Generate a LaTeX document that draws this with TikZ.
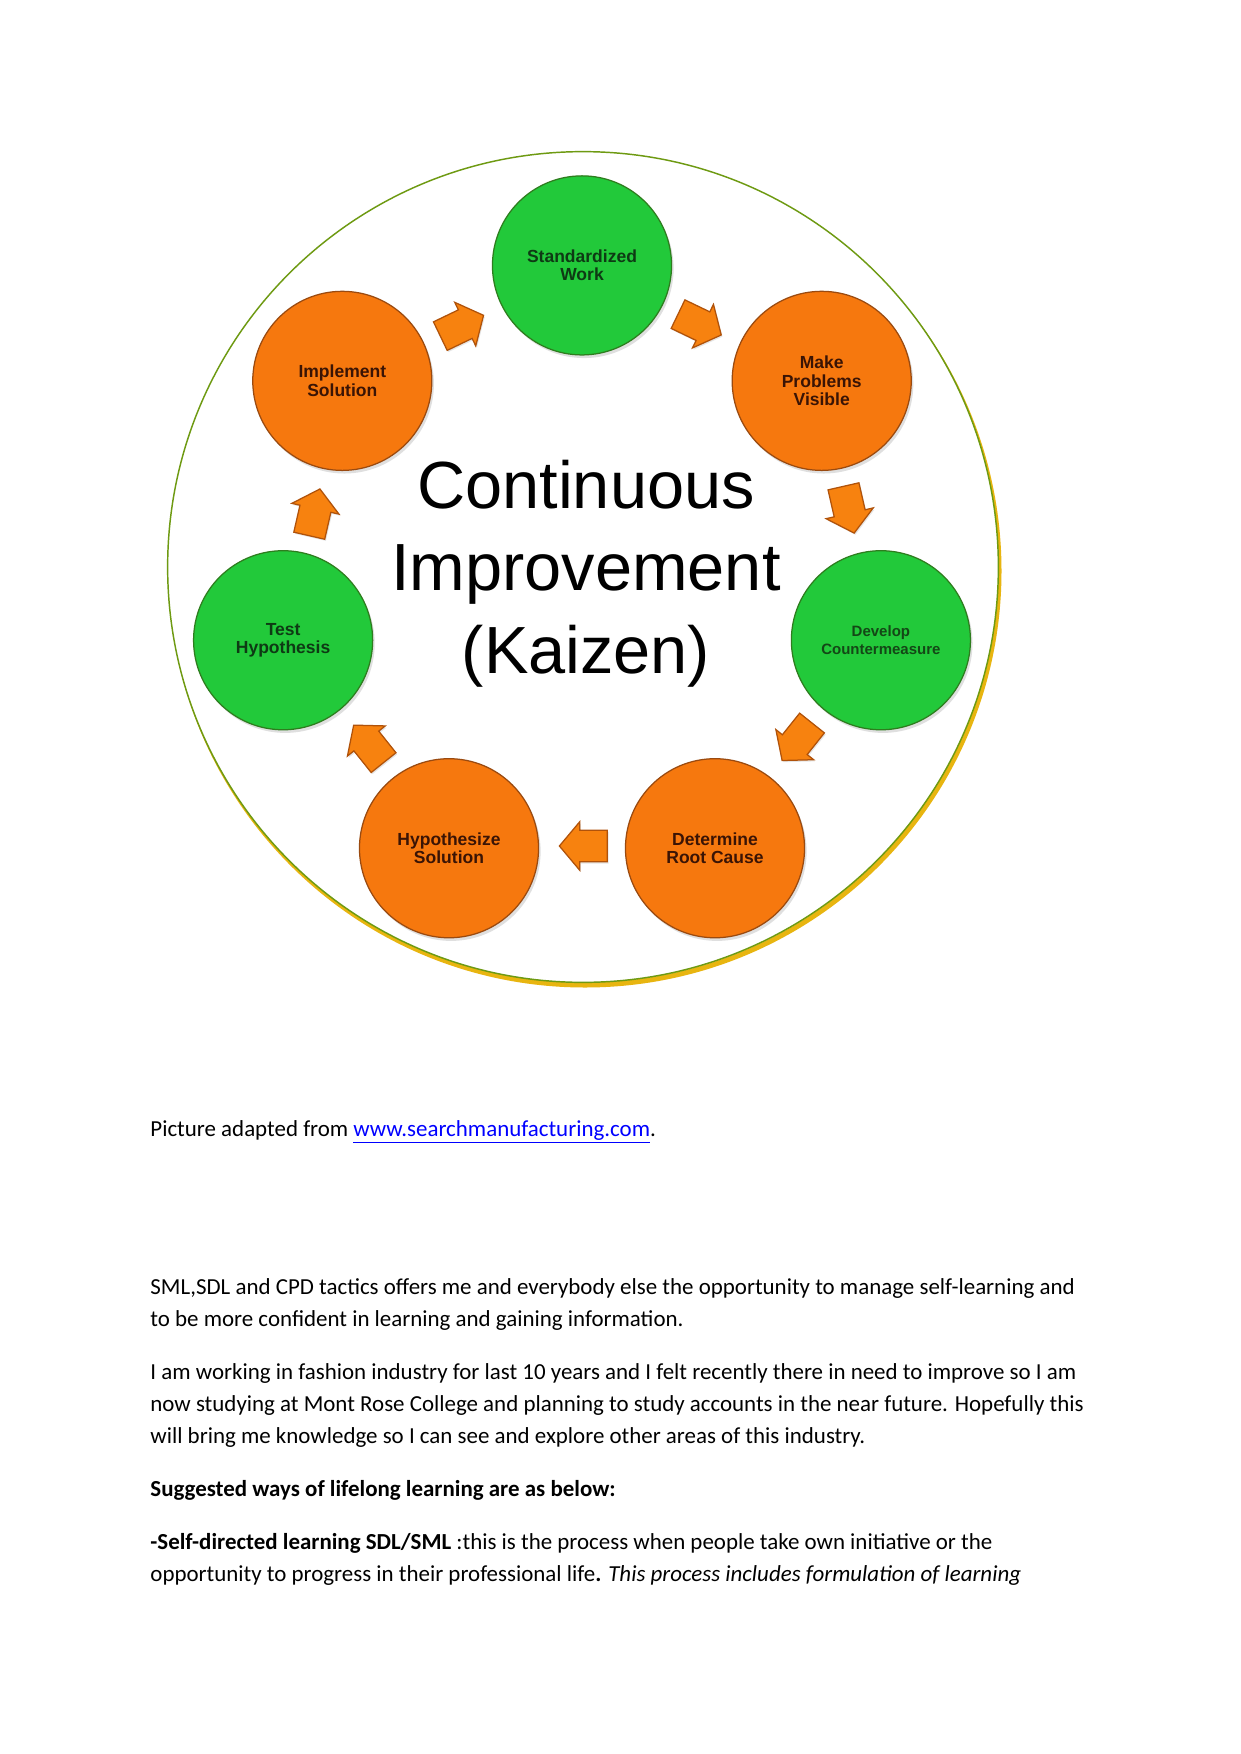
\documentclass[tikz,border=0pt]{standalone}
\usepackage{fontspec}
\setmainfont{Carlito}
\newfontfamily\arialfont{Liberation Sans}
\usetikzlibrary{shapes.arrows,shadows,calc}
\definecolor{kgreen}{HTML}{22C93A}
\definecolor{kgreenB}{HTML}{2E7D1E}
\definecolor{korange}{HTML}{F6780E}
\definecolor{korangeB}{HTML}{9A4A10}
\definecolor{karrow}{HTML}{F7820F}
\definecolor{karrowB}{HTML}{B0520A}
\definecolor{ktxtO}{HTML}{3A1405}
\definecolor{ktxtG}{HTML}{0E3A14}
\definecolor{kgold}{HTML}{E8B510}
\definecolor{kolive}{HTML}{6E9A12}
\definecolor{linkblue}{HTML}{0000FF}
\begin{document}
\begin{tikzpicture}[x=0.4797pt,y=0.4797pt,
  stepc/.style={circle, minimum size=85.9pt, inner sep=0pt, line width=0.6pt, align=center,
    font=\arialfont\bfseries\fontsize{8.4}{8.8}\selectfont,
    drop shadow={opacity=0.25,shadow xshift=1pt,shadow yshift=-1.5pt}},
  greenc/.style={stepc, fill=kgreen, draw=kgreenB, text=ktxtG},
  orangec/.style={stepc, fill=korange, draw=korangeB, text=ktxtO},
  blockarrow/.style={single arrow, minimum height=23pt, inner xsep=0pt, inner ysep=7.3pt,
    single arrow head extend=4pt, single arrow tip angle=100,
    fill=karrow, draw=karrowB, line width=0.6pt,
    drop shadow={opacity=0.2,shadow xshift=0.6pt,shadow yshift=-0.8pt}},
  titletxt/.style={anchor=base, inner sep=0pt, font=\arialfont\fontsize{32}{39.6}\selectfont},
  bodytxt/.style={anchor=base west, inner sep=0pt, font=\fontsize{11}{13.5}\selectfont}
]
\useasboundingbox[fill=white] (0,0) rectangle (1241,-1754);

% outer ring
\draw[kgold, line width=2.4pt] (585,-571) circle[radius=414];
\node[circle, draw=kolive, line width=0.7pt, minimum size=398.5pt, inner sep=0pt, fill=white] (ring) at (583,-567) {};

\coordinate (cen) at (582,-572);

% step circles
\node[greenc]  (sw) at ($(cen)+(90:306.6)$)     {Standardized\\Work};
\node[orangec] (mp) at ($(cen)+(38.57:306.6)$)  {Make\\Problems\\Visible};
\node[greenc, font=\arialfont\bfseries\fontsize{7.2}{8.4}\selectfont, text=ktxtG!80!kgreenB]
               (dc) at ($(cen)+(-12.86:306.6)$) {Develop\\Countermeasure};
\node[orangec] (dr) at ($(cen)+(-64.29:306.6)$) {Determine\\Root Cause};
\node[orangec] (hs) at ($(cen)+(-115.71:306.6)$){Hypothesize\\Solution};
\node[greenc]  (th) at ($(cen)+(-167.14:306.6)$){Test\\Hypothesis};
\node[orangec] (is) at ($(cen)+(141.43:306.6)$) {Implement\\Solution};

% block arrows between steps (clockwise); shifted back so the whole arrow is centred
\node[blockarrow, rotate=-25.71]  (a1) at ($(cen)+(64.29:274)+(154.29:8)$)   {};
\node[blockarrow, rotate=-77.14]  (a2) at ($(cen)+(12.86:274)+(102.86:8)$)   {};
\node[blockarrow, rotate=-128.57] (a3) at ($(cen)+(-38.57:274)+(51.43:8)$)   {};
\node[blockarrow, rotate=180]     (a4) at ($(cen)+(-90:274)+(0:8)$)          {};
\node[blockarrow, rotate=128.57]  (a5) at ($(cen)+(-141.43:274)+(-51.43:8)$) {};
\node[blockarrow, rotate=77.14]   (a6) at ($(cen)+(167.14:274)+(-102.86:8)$) {};
\node[blockarrow, rotate=25.71]   (a7) at ($(cen)+(115.71:274)+(-154.29:8)$) {};

% title
\node[titletxt] (t1) at (586,-508) {Continuous};
\node[titletxt] (t2) at (586,-590) {Improvement};
\node[titletxt] (t3) at (586,-673) {(Kaizen)};

% body text
\node[bodytxt] (p0) at (150,-1136) {Picture adapted from \textcolor{linkblue}{\underline{www.searchmanufacturing.com}}.};
\node[bodytxt] (p1) at (150,-1294) {SML,SDL and CPD tactics offers me and everybody else the opportunity to manage self-learning and};
\node[bodytxt] (p2) at (150,-1326) {to be more confident in learning and gaining information.};
\node[bodytxt] (p3) at (150,-1379) {I am working in fashion industry for last 10 years and I felt recently there in need to improve so I am};
\node[bodytxt] (p4) at (150,-1411) {now studying at Mont Rose College and planning to study accounts in the near future. Hopefully this};
\node[bodytxt] (p5) at (150,-1443) {will bring me knowledge so I can see and explore other areas of this industry.};
\node[bodytxt] (p6) at (150,-1496) {\bfseries Suggested ways of lifelong learning are as below:};
\node[bodytxt] (p7) at (150,-1549) {\textbf{-Self-directed learning SDL/SML} :this is the process when people take own initiative or the};
\node[bodytxt] (p8) at (150,-1581) {opportunity to progress in their professional life\textbf{.} \textit{This process includes formulation of learning}};
\end{tikzpicture}
\end{document}
